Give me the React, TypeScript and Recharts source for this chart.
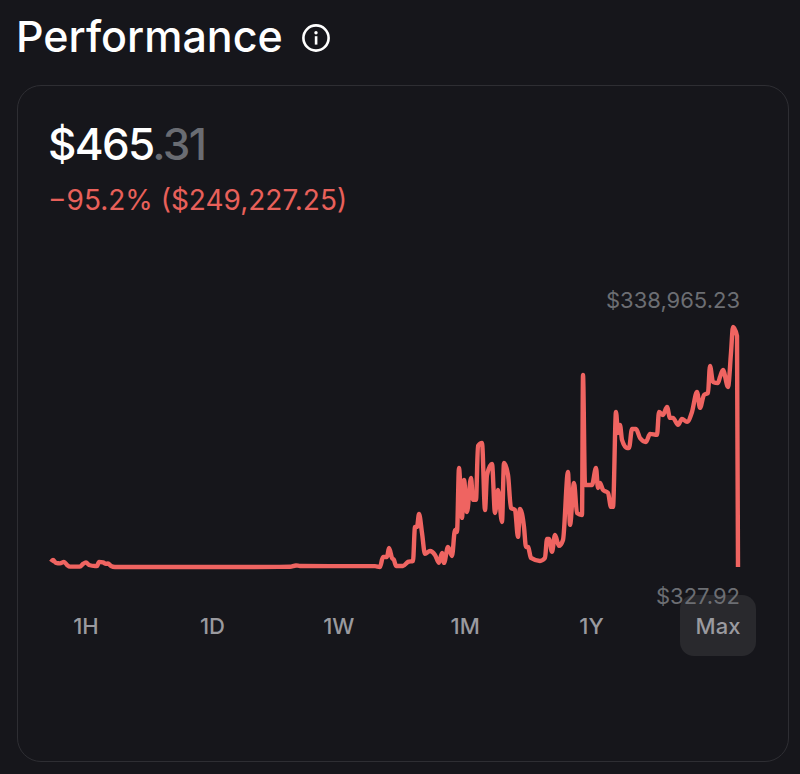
import { LineChart, Line, XAxis, YAxis } from 'recharts';

const times = [
  1, 3, 6, 10, 14, 17, 20, 30, 33, 36, 39, 45, 47, 49, 53, 56, 58, 61, 65, 80, 110, 150, 200, 240, 246, 250, 280, 325,
  330, 333, 337, 339, 342, 344, 346, 353, 358, 363, 365, 367, 369, 372, 375, 380, 385, 389, 392, 394, 398, 402, 405, 407,
  409, 412, 414, 417, 421, 423, 426, 428, 432, 435, 437, 442, 445, 448, 452, 454, 458, 461, 465, 468, 470, 474, 476, 478,
  481, 490, 495, 497, 499, 502, 505, 509, 513, 518, 520, 524, 527, 532, 533, 535, 542, 546, 548, 550, 553, 558, 561, 563,
  566, 568, 570, 572, 577, 579, 582, 586, 590, 596, 600, 607, 609, 613, 617, 620, 623, 628, 632, 637, 642, 647, 650, 654,
  658, 660, 663, 668, 670, 673, 678, 681, 683, 687, 688,
];

// thousands of dollars
const prices = [
  7.5, 10.3, 6.1, 5.4, 7.5, 3.2, 0.8, 0.8, 4.7, 6.8, 3.2, 1.8, 1.8, 7.5, 6.8, 4.7, 5.4, 1.8, 0.4, 0.4, 0.33, 0.4, 0.33, 0.6, 2.5, 1.8, 1.6, 1.6,
  0.4, 14.5, 14.5, 27.2, 13.1, 10.3, 1.8, 1.8, 7.5, 8.9, 56.9, 56.9, 75.2, 48.4, 18.8, 23.0, 17.4, 6.1, 20.2, 6.1, 28.6, 15.9, 52.6, 49.8,
  140.1, 69.6, 123.2, 78.0, 126.0, 95.0, 95.0, 171.2, 175.4, 80.8, 130.2, 145.8, 76.6, 109.1, 63.9, 147.2, 130.2, 83.7, 80.8, 42.8, 82.3, 56.9, 28.6, 28.6,
  13.1, 8.9, 13.1, 39.9, 39.9, 21.6, 45.6, 30.1, 38.5, 134.5, 59.7, 118.9, 76.6, 73.8, 271.3, 116.1, 116.1, 140.1, 111.9, 118.9, 109.1, 104.8, 85.1, 85.1,
  219.1, 189.5, 200.8, 179.6, 168.3, 168.3, 195.1, 195.1, 182.4, 176.8, 188.1, 186.7, 219.1, 214.9, 226.2, 210.7, 210.7, 200.8, 209.3, 205.1, 219.1, 247.4, 224.8, 243.1,
  245.9, 284.0, 261.5, 260.0, 268.5, 278.4, 254.4, 302.4, 338.965, 326.3, 0.328,
];

const ranges = ['1H', '1D', '1W', '1M', '1Y', 'Max'];

const chartData = times.map((t, i) => ({ t, price: prices[i] }));

const font = 'Inter, sans-serif';

function InfoIcon() {
  return (
    <svg width={30} height={30} viewBox="0 0 30 30" style={{ position: 'absolute', left: 301, top: 23 }}>
      <circle cx={15} cy={15} r={12.6} fill="none" stroke="#fff" strokeWidth={2.6} />
      <circle cx={15} cy={9.8} r={1.7} fill="#fff" />
      <rect x={13.8} y={13.2} width={2.6} height={8.4} fill="#fff" />
    </svg>
  );
}

export default function App() {
  return (
    <div style={{ position: 'absolute', left: 0, top: 0, width: 800, height: 774, background: '#16161b', overflow: 'hidden', fontFamily: font }}>
      <div style={{ position: 'absolute', left: 16, top: 11, fontSize: 43, lineHeight: '50px', fontWeight: 500, color: '#fff', whiteSpace: 'nowrap' }}>
        Performance
      </div>
      <InfoIcon />

      <div style={{ position: 'absolute', left: 17, top: 85, width: 770, height: 675, border: '1px solid #2e2e33', borderRadius: 24 }} />

      <div style={{ position: 'absolute', left: 48, top: 118, fontSize: 44, lineHeight: '52px', fontWeight: 500, letterSpacing: -1.7, color: '#fff', whiteSpace: 'nowrap' }}>
        $465<span style={{ color: '#6a6c72' }}>.31</span>
      </div>
      <div style={{ position: 'absolute', left: 48, top: 184, fontSize: 28, lineHeight: '32px', color: '#e8605a', whiteSpace: 'nowrap' }}>
        −95.2% ($249,227.25)
      </div>

      <div style={{ position: 'absolute', left: 0, top: 300 }}>
        <LineChart width={800} height={300} data={chartData} margin={{ top: 27, right: 62, bottom: 33, left: 50 }}>
          <XAxis dataKey="t" type="number" domain={[0, 688]} hide />
          <YAxis type="number" domain={[0.328, 338.965]} hide />
          <Line
            type="monotone"
            dataKey="price"
            stroke="#ef6461"
            strokeWidth={4.4}
            strokeLinejoin="round"
            dot={false}
            isAnimationActive={false}
          />
        </LineChart>
      </div>

      <div style={{ position: 'absolute', left: 680, top: 595, width: 76, height: 61, background: '#29292d', borderRadius: 14 }} />

      <div style={{ position: 'absolute', right: 60, top: 287, fontSize: 22, lineHeight: '26px', color: '#6c6e73', whiteSpace: 'nowrap' }}>$338,965.23</div>
      <div style={{ position: 'absolute', right: 60, top: 583, fontSize: 22, lineHeight: '26px', color: '#6c6e73', whiteSpace: 'nowrap' }}>$327.92</div>

      {ranges.map((r, i) => (
        <div
          key={r}
          style={{
            position: 'absolute',
            left: 86 + i * 126.4 - 40,
            top: 613,
            width: 80,
            textAlign: 'center',
            fontSize: 22,
            lineHeight: '26px',
            fontWeight: 500,
            color: '#9a9a9f',
          }}
        >
          {r}
        </div>
      ))}
    </div>
  );
}
